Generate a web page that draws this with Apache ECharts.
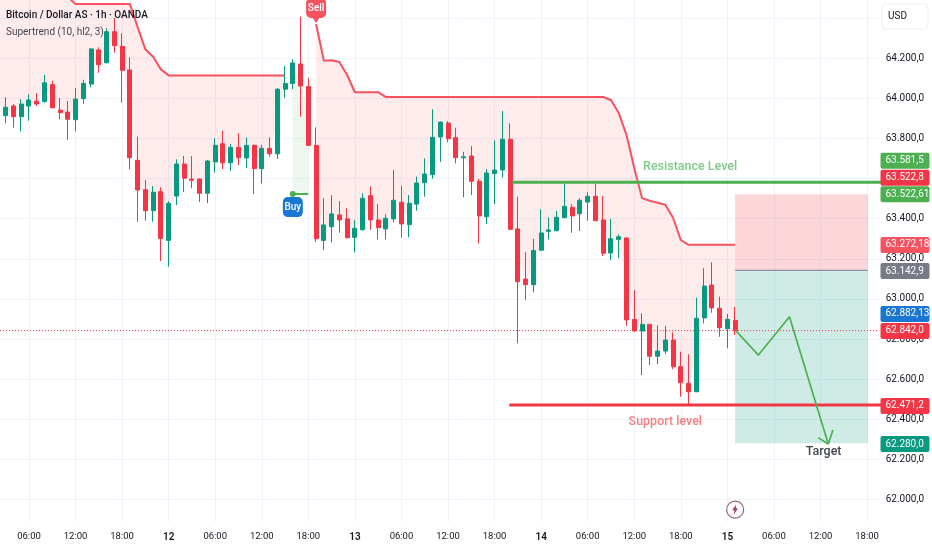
<!DOCTYPE html>
<html><head><meta charset="utf-8">
<style>html,body{margin:0;padding:0;background:#fff}#c{width:932px;height:550px}</style>
<script src="https://cdn.jsdelivr.net/npm/echarts@6/dist/echarts.min.js"></script>
</head><body><div id="c"></div>
<script>
// Hours since 11th 00:00, one candle per hour from 2 to 97
const firstHour = 2, lastAxisHour = 115;
const opens  = [64051,63914,63962,63909,63962,63986,63984,64069,63942,63932,63894,63999,64072,64242,64178,64333,64260,64142,63691,63545,63440,63535,63292,63513,63673,63598,63598,63527,63683,63774,63679,63756,63703,63766,63650,63751,63724,64046,64075,64172,64059,63766,63292,63360,63419,63399,63307,63345,63515,63394,63349,63399,63482,63370,63473,63580,63620,63808,63877,63804,63704,63713,63587,63410,63625,63643,63796,63349,63099,63071,63243,63337,63340,63405,63457,63425,63483,63512,63394,63229,63297,63304,62898,62840,62873,62714,62740,62795,62662,62579,62537,62905,63069,62953,62851,62893];
const closes = [63917,63956,63909,63972,63992,63972,64078,63954,63929,63896,63997,64075,64247,64168,64333,64263,64140,63704,63543,63440,63532,63302,63477,63673,63602,63592,63527,63688,63766,63679,63756,63704,63766,63650,63751,63724,64046,64075,64177,64062,63766,63300,63369,63424,63394,63305,63352,63502,63394,63355,63402,63492,63374,63477,63578,63623,63806,63882,63799,63704,63709,63587,63414,63628,63643,63796,63347,63086,63071,63241,63329,63344,63407,63462,63414,63492,63512,63390,63228,63300,63310,62895,62840,62873,62714,62740,62795,62662,62582,62537,62903,63064,62955,62856,62898,62842];
const lows   = [63892,63876,63854,63836,63889,63962,63980,63950,63896,63793,63836,63974,64056,64128,64175,64228,63979,63646,63385,63390,63385,63189,63161,63468,63533,63552,63483,63478,63630,63648,63638,63668,63653,63523,63575,63709,63698,64002,64046,63909,63763,63284,63244,63282,63330,63302,63232,63342,63344,63297,63297,63382,63305,63307,63440,63510,63600,63684,63781,63676,63507,63518,63277,63374,63473,63605,63345,62779,62995,63033,63240,63297,63338,63403,63330,63339,63390,63388,63214,63194,63203,62866,62838,62620,62670,62675,62724,62649,62512,62471,62535,62878,62931,62811,62754,62820];
const highs  = [64092,64006,63972,63996,64021,64026,64118,64088,64002,63987,64051,64092,64250,64255,64351,64401,64325,64205,63809,63593,63563,63557,63488,63696,63713,63713,63600,63693,63801,63839,63773,63826,63806,63770,63769,63806,64051,64162,64195,64408,64103,63856,63502,63517,63488,63452,63394,63527,63560,63473,63422,63643,63565,63518,63610,63701,63946,63885,63887,63854,63734,63763,63598,63648,63791,63937,63876,63510,63233,63300,63447,63407,63439,63577,63473,63502,63532,63573,63513,63399,63322,63306,63044,62928,62875,62868,62865,62833,62737,62724,63006,63153,63183,63011,62925,62961];
const supertrendRed = [64591,64591,64591,64591,64591,64591,64591,64591,64591,64506,64471,64471,64471,64471,64471,64471,64471,64471,64356,64245,64208,64145,64115,64115,64115,64115,64115,64115,64115,64115,64115,64115,64115,64115,64115,64115,64115,64115,null,null,null,64371,64188,64190,64182,64117,64031,64031,64031,64031,64007,64007,64007,64007,64007,64007,64007,64007,64007,64007,64007,64007,64007,64007,64007,64007,64007,64007,64007,64007,64007,64007,64007,64007,64007,64007,64007,64007,64007,63992,63927,63818,63653,63503,63490,63480,63470,63405,63294,63270,63270,63270,63270,63270,63270,63270];
const supertrendGreen = [null,null,null,null,null,null,null,null,null,null,null,null,null,null,null,null,null,null,null,null,null,null,null,null,null,null,null,null,null,null,null,null,null,null,null,null,null,null,63523,63523,63523,null];

const tickHours  = [6,12,18,24,30,36,42,48,54,60,66,72,78,84,90,96,102,108,114];
const tickLabels = ["06:00","12:00","18:00","12","06:00","12:00","18:00","13","06:00","12:00","18:00","14","06:00","12:00","18:00","15","06:00","12:00","18:00"];
const gridPrices  = [62000,62200,62400,62600,62800,63000,63200,63400,63600,63800,64000,64200,64400];
const priceTicks  = [62000,62200,62400,62600,62800,63000,63200,63400,63600,63800,64000,64200];
const priceLabels = ["62.000,0","62.200,0","62.400,0","62.600,0","62.800,0","63.000,0","63.200,0","63.400,0","63.600,0","63.800,0","64.000,0","64.200,0"];

const resistance = 63581.5, support = 62471.2, lastPrice = 62842;
const levelFrom = [68.3, 67.9];
const boxFromHour = 97, boxToHour = 114.1, boxTop = 63522.6, boxMid = 63142.9, boxBottom = 62280;
const zigzagHours  = [97,100,104,109];
const zigzagPrices = [62845,62720,62911,62276];
const arrowHours   = [107.7,109,109.6];
const arrowPrices  = [62308,62276,62346];

const tagSlots  = [63689,63605,63522,63269,63139,62925,62840,62466,62276];
const tagTexts  = ["63.581,5","63.522,8","63.522,61","63.272,18","63.142,9","62.882,13","62.842,0","62.471,2","62.280,0"];
const tagColors = ["#4caf50","#f23645","#4caf50","#f7525f","#787b86","#1976d2","#f23645","#f23645","#089981"];

const RED = "#f23645", GREEN = "#089981", LINE = "#f7525f", GRN2 = "#4caf50";
const FONT = 'Roboto';

const cats = []; for (let h = firstHour; h <= lastAxisHour; h++) cats.push(h);
const candle = opens.map((o, i) => [o, closes[i], lows[i], highs[i]]);
const mid = opens.map((o, i) => (o + closes[i]) / 2);
const redBase = supertrendRed.map((v, i) => v == null ? null : Math.min(v, mid[i]));
const redBand = supertrendRed.map((v, i) => v == null ? null : Math.abs(v - mid[i]));
const greenBase = supertrendGreen.map((v, i) => v == null ? null : Math.min(v, mid[i]));
const greenBand = supertrendGreen.map((v, i) => v == null ? null : Math.abs(v - mid[i]));
const pairs = (xs, ys) => xs.map((x, i) => [x, ys[i]]);
const hLine = (name, from, y, color, width, z) => ({
  type: 'line', xAxisIndex: 1, yAxisIndex: 0, showSymbol: false, z, silent: true, clip: false,
  data: [[from, y], [115.8, y]], lineStyle: { color, width }
});
const band = (name, data, stack, color) => ({ type: 'line', stack, data, showSymbol: false, z: 1, silent: true, lineStyle: { opacity: 0 }, areaStyle: color ? { color, opacity: 1 } : undefined });
const note = (h, p, text, color, size, weight) => ({ value: [h, p], label: { show: true, position: 'inside', formatter: text, color, fontSize: size, fontWeight: weight, fontFamily: FONT } });

const option = {
  animation: false,
  backgroundColor: '#fff',
  title: [
    { text: 'Bitcoin / Dollar AS · 1h · OANDA', left: 6, top: 10, padding: 0, textStyle: { fontFamily: FONT, fontSize: 10, fontWeight: 500, color: '#131722' } },
    { text: 'Supertrend (10, hl2, 3)', left: 6, top: 27, padding: 0, textStyle: { fontFamily: FONT, fontSize: 10, fontWeight: 400, color: '#434651' } }
  ],
  grid: { left: -5.94, top: 0, width: 884.64, height: 522, outerBoundsMode: 'none' },
  xAxis: [
    { type: 'category', data: cats, show: false, boundaryGap: true },
    { type: 'value', min: firstHour - 0.5, max: lastAxisHour + 0.5, position: 'bottom',
      axisLine: { show: false },
      axisTick: { show: false, customValues: tickHours },
      splitLine: { show: true, lineStyle: { color: '#f0f3fa', width: 1 } },
      axisLabel: { customValues: tickHours, margin: 10, fontFamily: FONT, fontSize: 9.5, color: '#131722', hideOverlap: false,
        rich: { d: { fontFamily: FONT, fontSize: 10, fontWeight: 600, color: '#131722' } },
        formatter: v => { const t = tickLabels[tickHours.indexOf(v)] ?? ''; return t.includes(':') ? t : (t ? '{d|' + t + '}' : ''); } } }
  ],
  yAxis: [{ type: 'value', position: 'right', min: 61887.3, max: 64491, scale: true,
    axisLine: { show: false },
    axisTick: { show: false, customValues: gridPrices },
    splitLine: { show: true, lineStyle: { color: '#f0f3fa', width: 1 } },
    axisLabel: { customValues: priceTicks, margin: 7, fontFamily: FONT, fontSize: 10, color: '#131722',
      formatter: v => priceLabels[priceTicks.indexOf(v)] ?? '' } }],
  series: [
    band('rb', redBase, 'r'), band('rf', redBand, 'r', 'rgba(242,54,69,0.1)'),
    band('gb', greenBase, 'g'), band('gf', greenBand, 'g', 'rgba(76,175,80,0.1)'),
    { type: 'line', data: supertrendRed, showSymbol: false, z: 2, silent: true, lineStyle: { color: LINE, width: 2 } },
    { type: 'line', data: supertrendGreen, showSymbol: false, z: 2, silent: true, lineStyle: { color: GRN2, width: 2 } },
    { type: 'candlestick', data: candle, barWidth: 4.5, z: 3, silent: true,
      itemStyle: { color: GREEN, color0: RED, borderColor: GREEN, borderColor0: RED, borderWidth: 1 } },
    { type: 'line', xAxisIndex: 1, data: [], z: 1, silent: true,
      markArea: { silent: true, data: [
        [{ coord: [boxFromHour, boxTop], itemStyle: { color: 'rgba(242,54,69,0.2)' } }, { coord: [boxToHour, boxMid] }],
        [{ coord: [boxFromHour, boxMid], itemStyle: { color: 'rgba(8,153,129,0.2)' } }, { coord: [boxToHour, boxBottom] }]
      ] } },
    { type: 'line', xAxisIndex: 1, showSymbol: false, z: 2, silent: true, data: [[boxFromHour, boxMid], [boxToHour, boxMid]], lineStyle: { color: '#787b86', width: 1 } },
    { type: 'line', xAxisIndex: 1, showSymbol: false, z: 2, silent: true, data: [[firstHour - 0.5, lastPrice], [lastAxisHour + 0.5, lastPrice]], lineStyle: { color: RED, width: 1, type: [1, 2] } },
    hLine('res', levelFrom[0], resistance, GRN2, 3, 4),
    hLine('sup', levelFrom[1], support, RED, 3, 4),
    { type: 'line', xAxisIndex: 1, showSymbol: false, z: 5, silent: true, data: pairs(zigzagHours, zigzagPrices), lineStyle: { color: GRN2, width: 1.7 } },
    { type: 'line', xAxisIndex: 1, showSymbol: false, z: 5, silent: true, data: pairs(arrowHours, arrowPrices), lineStyle: { color: GRN2, width: 1.7 } },
    // signal marks
    { type: 'scatter', xAxisIndex: 1, clip: false, z: 6, silent: true, symbol: 'circle', symbolSize: 6, itemStyle: { color: GRN2, opacity: 1 }, data: [[40, 63523]] },
    { type: 'scatter', xAxisIndex: 1, clip: false, z: 6, silent: true, symbol: 'roundRect', symbolSize: [20, 20], itemStyle: { color: '#1976d2', opacity: 1 },
      data: [note(40, 63458, 'Buy', '#fff', 10, 500)] },
    { type: 'scatter', xAxisIndex: 1, clip: false, z: 6, silent: true, symbol: 'triangle', symbolRotate: 180, symbolSize: [8, 6], itemStyle: { color: LINE, opacity: 1 }, data: [[43, 64391]] },
    { type: 'scatter', xAxisIndex: 1, clip: false, z: 6, silent: true, symbol: 'roundRect', symbolSize: [20, 20], itemStyle: { color: LINE, opacity: 1 },
      data: [note(43, 64451, 'Sell', '#fff', 10, 500)] },
    // event marker
    { type: 'scatter', xAxisIndex: 1, clip: false, z: 6, silent: true, symbol: 'circle', symbolSize: 17, itemStyle: { color: '#fff', borderColor: '#8f6678', borderWidth: 1.2, opacity: 1 }, data: [[97, 61949]] },
    { type: 'scatter', xAxisIndex: 1, clip: false, z: 7, silent: true, symbol: 'path://M6 0 L1 8 H4 L3 14 L9 5 H6 Z', symbolSize: [6, 10], itemStyle: { color: '#b0405c', opacity: 1 }, data: [[97, 61949]] },
    // text annotations
    { type: 'scatter', xAxisIndex: 1, clip: false, z: 7, silent: true, symbolSize: 1, itemStyle: { color: 'transparent', opacity: 1 },
      data: [
        note(91.2, 63658, 'Resistance Level', '#7fc98a', 12.5, 500),
        note(88, 62386, 'Support level', '#f77c80', 12.5, 500),
        note(108.4, 62236, 'Target', '#434651', 12.5, 500)
      ] },
    // price tags
    { type: 'scatter', xAxisIndex: 1, clip: false, z: 8, silent: true, symbolSize: 1, itemStyle: { color: 'transparent', opacity: 1 },
      data: tagSlots.map((p, i) => ({ value: [lastAxisHour + 0.5, p], label: {
        show: true, position: 'right', distance: 1.3, formatter: tagTexts[i], color: '#fff', backgroundColor: tagColors[i],
        width: 44, height: 16, lineHeight: 16, align: 'left', padding: [0, 0, 0, 5], borderRadius: 2, fontFamily: FONT, fontSize: 10 } })) }
  ],
  graphic: [
    { type: 'rect', z: 100, shape: { x: 882, y: 4, width: 46, height: 25, r: 4 }, style: { fill: '#fff', stroke: '#eeeff2', lineWidth: 1 } },
    { type: 'text', z: 101, x: 888, y: 11, style: { text: 'USD', fill: '#131722', fontFamily: FONT, fontSize: 10 } }
  ]
};
echarts.init(document.getElementById('c')).setOption(option);
</script></body></html>
